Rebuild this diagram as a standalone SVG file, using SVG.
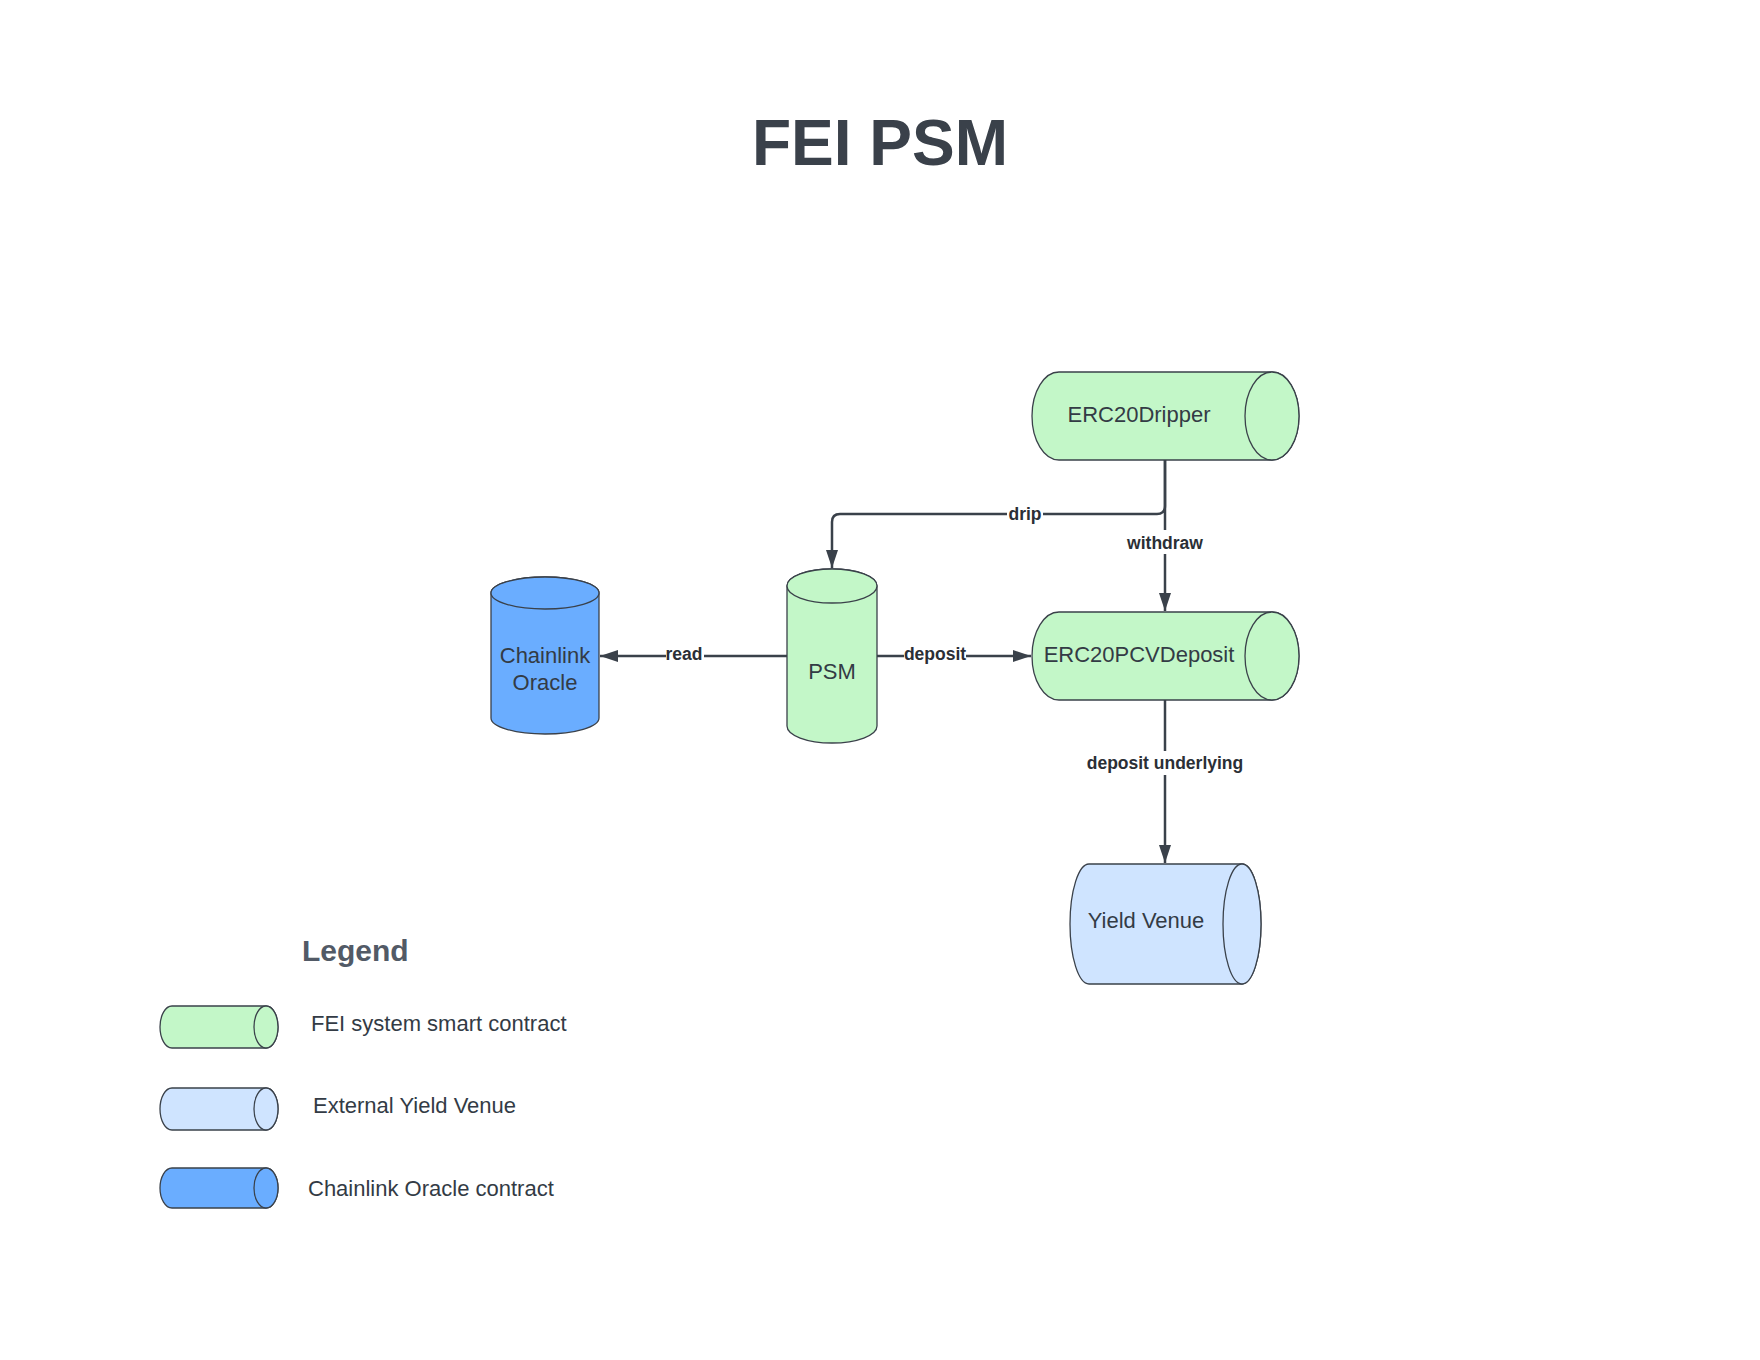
<svg xmlns="http://www.w3.org/2000/svg" width="1760" height="1360" viewBox="0 0 1760 1360">
<defs>
<style>
.shape{stroke:#3a414a;stroke-width:1.3}
.green{fill:#c3f7c8}
.lblue{fill:#cfe4ff}
.blue{fill:#6aadff}
.ntext{font-family:"Liberation Sans",Arial,sans-serif;font-size:22px;fill:#333b45}
.elabel{font-family:"Liberation Sans",Arial,sans-serif;font-size:17.5px;font-weight:bold;fill:#2b2f36;text-anchor:middle}
.conn{fill:none;stroke:#3a414a;stroke-width:2.5}
</style>
<marker id="arrow" viewBox="0 0 18 12" refX="18" refY="6" markerWidth="18" markerHeight="12" markerUnits="userSpaceOnUse" orient="auto">
<path d="M0,0 L18,6 L0,12 Z" fill="#3a414a"/>
</marker>
</defs>
<rect width="1760" height="1360" fill="#ffffff"/>
<text x="880" y="165" text-anchor="middle" font-family="'Liberation Sans',Arial,sans-serif" font-size="64" font-weight="bold" fill="#3a414a">FEI PSM</text>

<g id="connectors">
<path class="conn" d="M1165,460 V506 Q1165,514 1157,514 H840 Q832,514 832,522 V568" marker-end="url(#arrow)"/>
<path class="conn" d="M1165,460 V611" marker-end="url(#arrow)"/>
<path class="conn" d="M787,656 H600" marker-end="url(#arrow)"/>
<path class="conn" d="M877,656 H1031" marker-end="url(#arrow)"/>
<path class="conn" d="M1165,700 V863" marker-end="url(#arrow)"/>
<rect x="1007" y="503" width="36" height="22" fill="#ffffff"/>
<text class="elabel" x="1025" y="520">drip</text>
<rect x="1124" y="530" width="82" height="24" fill="#ffffff"/>
<text class="elabel" x="1165" y="549">withdraw</text>
<rect x="666" y="645" width="38" height="22" fill="#ffffff"/>
<text class="elabel" x="684" y="660">read</text>
<rect x="904" y="645" width="62" height="22" fill="#ffffff"/>
<text class="elabel" x="935" y="660">deposit</text>
<rect x="1084" y="751" width="162" height="24" fill="#ffffff"/>
<text class="elabel" x="1165" y="769">deposit underlying</text>
</g>

<g id="erc20dripper">
<path class="shape green" d="M1059,372 H1272 A27,44 0 0 1 1272,460 H1059 A27,44 0 0 1 1059,372 Z"/>
<ellipse class="shape green" cx="1272" cy="416" rx="27" ry="44"/>
<text class="ntext" x="1139" y="422" text-anchor="middle">ERC20Dripper</text>
</g>

<g id="erc20pcvdeposit">
<path class="shape green" d="M1059,612 H1272 A27,44 0 0 1 1272,700 H1059 A27,44 0 0 1 1059,612 Z"/>
<ellipse class="shape green" cx="1272" cy="656" rx="27" ry="44"/>
<text class="ntext" x="1139" y="662" text-anchor="middle">ERC20PCVDeposit</text>
</g>

<g id="yieldvenue">
<path class="shape lblue" d="M1089,864 H1242 A19,60 0 0 1 1242,984 H1089 A19,60 0 0 1 1089,864 Z"/>
<ellipse class="shape lblue" cx="1242" cy="924" rx="19" ry="60"/>
<text class="ntext" x="1146" y="928" text-anchor="middle">Yield Venue</text>
</g>

<g id="psm">
<path class="shape green" d="M787,586 V726 A45,17 0 0 0 877,726 V586 A45,17 0 0 0 787,586 Z"/>
<ellipse class="shape green" cx="832" cy="586" rx="45" ry="17"/>
<text class="ntext" x="832" y="679" text-anchor="middle">PSM</text>
</g>

<g id="chainlinkoracle">
<path class="shape blue" d="M491,593 V718 A54,16 0 0 0 599,718 V593 A54,16 0 0 0 491,593 Z"/>
<ellipse class="shape blue" cx="545" cy="593" rx="54" ry="16"/>
<text class="ntext" x="545" y="663" text-anchor="middle">Chainlink</text>
<text class="ntext" x="545" y="690" text-anchor="middle">Oracle</text>
</g>

<g id="legend">
<text x="302" y="961" font-family="'Liberation Sans',Arial,sans-serif" font-size="30" font-weight="bold" fill="#525a66">Legend</text>
<g id="legend-fei">
<path class="shape green" d="M172,1006 H266 A12,21 0 0 1 266,1048 H172 A12,21 0 0 1 172,1006 Z"/>
<ellipse class="shape green" cx="266" cy="1027" rx="12" ry="21"/>
<text class="ntext" x="311" y="1031">FEI system smart contract</text>
</g>
<g id="legend-yield">
<path class="shape lblue" d="M172,1088 H266 A12,21 0 0 1 266,1130 H172 A12,21 0 0 1 172,1088 Z"/>
<ellipse class="shape lblue" cx="266" cy="1109" rx="12" ry="21"/>
<text class="ntext" x="313" y="1113">External Yield Venue</text>
</g>
<g id="legend-chainlink">
<path class="shape blue" d="M172,1168 H266 A12,20 0 0 1 266,1208 H172 A12,20 0 0 1 172,1168 Z"/>
<ellipse class="shape blue" cx="266" cy="1188" rx="12" ry="20"/>
<text class="ntext" x="308" y="1196">Chainlink Oracle contract</text>
</g>
</g>
</svg>
